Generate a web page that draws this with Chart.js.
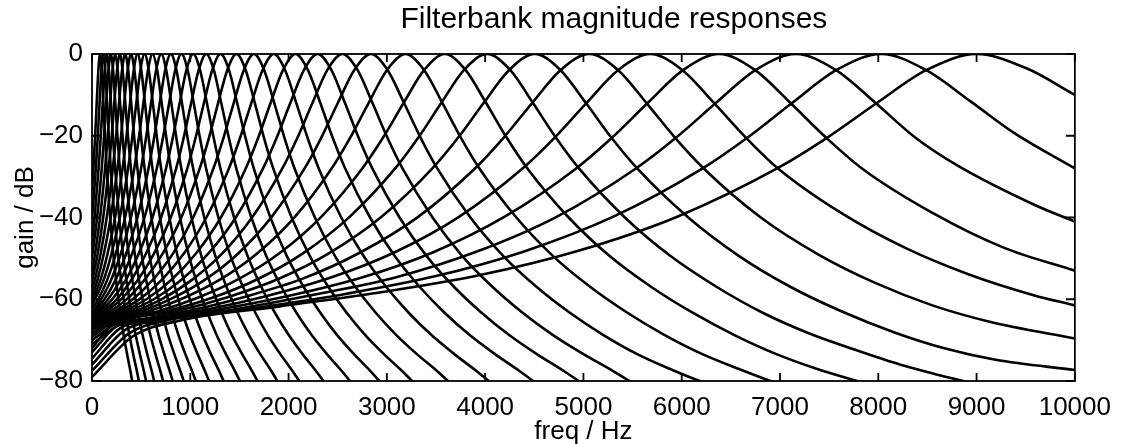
<!DOCTYPE html>
<html>
<head>
<meta charset="utf-8">
<title>Filterbank magnitude responses</title>
<script src="https://cdn.jsdelivr.net/npm/chart.js@4.4.1/dist/chart.umd.min.js"></script>
<style>
  html, body { margin: 0; padding: 0; background: #fff; }
</style>
</head>
<body>
<canvas id="fbChart" width="1122" height="444"></canvas>
<script>
// axis ticks
const freqTicks = [0, 1000, 2000, 3000, 4000, 5000, 6000, 7000, 8000, 9000, 10000];
const gainTicks = [0, -20, -40, -60, -80];
const plotTitle = 'Filterbank magnitude responses';

// magnitude response of each channel, [freq Hz, gain dB], highest channel first
const ch01 = [[0,-79],[420,-69],[880,-65.3],[1895,-61.8],[2910,-58.4],[3925,-54.2],[4940,-48.2],[5955,-39.8],[6970,-28],[7478,-20.5],[7985,-12],[8492,-3.9],[9000,0],[9508,-3.5],[10000,-10]];
const ch02 = [[0,-77.5],[380,-68.3],[762,-65.2],[1671,-62.1],[2579,-58.7],[3488,-54.4],[4396,-48.3],[5305,-39.8],[6213,-28],[6667,-20.5],[7122,-12],[7576,-3.9],[8030,0],[8484,-3.9],[8939,-11.6],[9393,-19.5],[10000,-28]];
const ch03 = [[0,-76],[330,-67.6],[658,-65.2],[1470,-62.4],[2283,-58.8],[3096,-54.6],[3909,-48.4],[4722,-39.9],[5534,-28],[5941,-20.5],[6347,-12],[6754,-3.9],[7160,0],[7566,-3.9],[7973,-12],[8379,-20.5],[8786,-27],[9598,-37],[10000,-41]];
const ch04 = [[0,-74.5],[280,-67.2],[564,-65.2],[1291,-62.5],[2018,-59.1],[2745,-54.7],[3472,-48.5],[4199,-39.8],[4926,-28],[5290,-20.5],[5653,-12],[6017,-3.9],[6380,0],[6744,-3.9],[7107,-12],[7471,-20.5],[7834,-28],[8561,-39],[9288,-47.5],[10000,-53]];
const ch05 = [[0,-73],[240,-66.8],[480,-65.2],[1130,-62.7],[1780,-59.2],[2430,-54.7],[3080,-48.5],[3730,-39.9],[4380,-28],[4705,-20.5],[5030,-12],[5355,-3.9],[5680,0],[6005,-3.9],[6330,-12],[6655,-20.5],[6980,-28],[7630,-39],[8280,-47.5],[8930,-54],[9580,-59],[10000,-61.5]];
const ch06 = [[0,-72],[200,-66.4],[406,-65.3],[987,-62.8],[1569,-59.3],[2151,-54.9],[2733,-48.5],[3315,-39.9],[3896,-28],[4187,-20.5],[4478,-12],[4769,-3.9],[5060,0],[5351,-3.9],[5642,-12],[5933,-20.5],[6224,-28],[6805,-40],[7387,-49],[7969,-56],[8551,-61.5],[9133,-65.5],[10000,-69.6]];
const ch07 = [[0,-71],[339,-65.3],[859,-62.9],[1380,-59.5],[1901,-55],[2422,-48.6],[2943,-39.9],[3463,-28],[3724,-20.5],[3984,-12],[4245,-3.9],[4505,0],[4765,-3.9],[5026,-12],[5286,-20.5],[5547,-28],[6067,-40],[6588,-49.5],[7109,-57],[7630,-63],[8151,-68],[8672,-72],[9192,-74.8],[10000,-77.3]];
const ch08 = [[0,-70],[281,-65.4],[748,-63],[1216,-59.7],[1683,-55.1],[2150,-48.7],[2618,-39.9],[3085,-28],[3319,-20.5],[3553,-12],[3786,-3.9],[4020,0],[4254,-3.9],[4487,-12],[4721,-20.5],[4955,-28],[5422,-40],[5890,-49.5],[6357,-57],[6824,-63.3],[7292,-68.3],[7759,-72.3],[8227,-76],[8864,-80],[9300,-82.5]];
const ch09 = [[0,-69.2],[229,-65.4],[649,-63.1],[1069,-59.7],[1490,-55.1],[1910,-48.7],[2330,-39.9],[2750,-28],[2960,-20.5],[3170,-12],[3380,-3.9],[3590,0],[3800,-3.9],[4010,-12],[4220,-20.5],[4430,-28],[4850,-40],[5270,-49.5],[5691,-57],[6111,-63.3],[6531,-68.7],[6951,-73.3],[7371,-77],[7854,-80.5],[8200,-83]];
const ch10 = [[0,-68.4],[181,-65.5],[557,-63.1],[933,-59.7],[1310,-55.1],[1686,-48.7],[2062,-39.9],[2438,-28],[2626,-20.5],[2814,-12],[3002,-3.9],[3190,0],[3378,-3.9],[3566,-12],[3754,-20.5],[3942,-28],[4318,-40],[4694,-49.5],[5071,-57],[5447,-63.3],[5823,-68.7],[6199,-73.3],[6575,-77],[6961,-80.5],[7300,-83]];
const ch11 = [[0,-67.6],[139,-65.6],[476,-63.2],[814,-59.8],[1151,-55.2],[1488,-48.8],[1826,-39.9],[2163,-28],[2332,-20.5],[2501,-12],[2669,-3.9],[2838,0],[3007,-3.9],[3175,-12],[3344,-20.5],[3513,-28],[3850,-40],[4188,-49.5],[4525,-57],[4862,-63.3],[5200,-68.7],[5537,-73.3],[5875,-77],[6237,-80.5],[6550,-83]];
const ch12 = [[0,-67],[104,-65.6],[410,-63.2],[715,-59.9],[1021,-55.2],[1326,-48.8],[1632,-39.9],[1937,-28],[2090,-20.5],[2243,-12],[2395,-3.9],[2548,0],[2701,-3.9],[2854,-12],[3006,-20.5],[3159,-28],[3465,-40],[3770,-49.5],[4076,-57],[4381,-63.3],[4687,-68.7],[4992,-73.3],[5298,-77.5],[5603,-82]];
const ch13 = [[0,-66.5],[74,-65.7],[351,-63.2],[629,-60],[907,-55.3],[1185,-48.8],[1463,-40],[1740,-28],[1879,-20.5],[2018,-12],[2157,-3.9],[2296,0],[2435,-3.9],[2574,-12],[2713,-20.5],[2852,-28],[3129,-40],[3407,-49.5],[3685,-57],[3963,-63.3],[4241,-68.7],[4518,-73.3],[4796,-77.5],[5074,-82]];
const ch14 = [[0,-66.2],[300,-63.2],[553,-60],[806,-55.3],[1058,-48.8],[1311,-40],[1564,-28],[1691,-20.5],[1817,-12],[1944,-3.9],[2070,0],[2196,-3.9],[2323,-12],[2449,-20.5],[2576,-28],[2829,-40],[3082,-49.5],[3335,-57],[3587,-63.3],[3840,-68.7],[4093,-73.3],[4346,-77.5],[4599,-82]];
const ch15 = [[0,-66],[249,-63.2],[478,-60.1],[707,-55.3],[935,-48.8],[1164,-40],[1393,-28],[1507,-20.5],[1621,-12],[1736,-3.9],[1850,0],[1964,-3.9],[2079,-12],[2193,-20.5],[2307,-28],[2536,-40],[2765,-49.5],[2994,-57],[3222,-63.3],[3451,-68.7],[3680,-73.3],[3908,-77.5],[4137,-82]];
const ch16 = [[0,-65.7],[203,-63.3],[409,-60.1],[616,-55.3],[822,-48.9],[1029,-40],[1235,-28],[1338,-20.5],[1442,-12],[1545,-3.9],[1648,0],[1751,-3.9],[1855,-12],[1958,-20.5],[2061,-28],[2268,-40],[2474,-49.5],[2681,-57],[2887,-63.3],[3094,-68.7],[3300,-73.3],[3507,-77.5],[3713,-82]];
const ch17 = [[0,-65.5],[162,-63.3],[349,-60.1],[536,-55.2],[722,-48.7],[909,-40],[1096,-28],[1190,-20.5],[1283,-12],[1377,-3.9],[1470,0],[1563,-3.9],[1657,-12],[1750,-20.5],[1844,-28],[2031,-40],[2218,-49.5],[2405,-57],[2591,-63.3],[2778,-68.7],[2965,-73.3],[3152,-77.5],[3339,-82]];
const ch18 = [[0,-65.3],[124,-63.3],[293,-60.1],[463,-55.4],[632,-48.8],[801,-40],[970,-28],[1054,-20.5],[1139,-12],[1224,-3.9],[1308,0],[1393,-3.9],[1477,-12],[1562,-20.5],[1646,-28],[1815,-40],[1984,-49.5],[2154,-57],[2323,-63.3],[2492,-68.7],[2661,-73.3],[2830,-77.5],[2999,-82]];
const ch19 = [[0,-65.1],[91,-63.3],[244,-60.2],[397,-55.4],[550,-48.8],[703,-40],[856,-28],[933,-20.5],[1009,-12],[1086,-3.9],[1162,0],[1239,-3.9],[1315,-12],[1392,-20.5],[1468,-28],[1621,-40],[1774,-49.5],[1927,-57],[2080,-63.3],[2233,-68.7],[2386,-73.3],[2539,-77.5],[2692,-82]];
const ch20 = [[0,-64.7],[61,-63.3],[199,-60.2],[338,-55.5],[476,-48.8],[615,-40],[753,-28],[822,-20.5],[892,-12],[961,-3.9],[1030,0],[1099,-3.9],[1169,-12],[1238,-20.5],[1307,-28],[1446,-40],[1584,-49.5],[1723,-57],[1861,-63.3],[2000,-68.7],[2139,-73.3],[2277,-77.5],[2415,-82]];
const ch21 = [[0,-64.2],[158,-60.2],[284,-55.5],[409,-48.8],[534,-40],[659,-28],[722,-20.5],[785,-12],[847,-3.9],[910,0],[973,-3.9],[1035,-12],[1098,-20.5],[1161,-28],[1286,-40],[1411,-49.5],[1537,-57],[1662,-63.3],[1787,-68.7],[1913,-73.3],[2038,-77.5],[2163,-82]];
const ch22 = [[0,-63.6],[122,-60.2],[235,-55.5],[348,-48.8],[462,-40],[575,-28],[632,-20.5],[689,-12],[745,-3.9],[802,0],[859,-3.9],[915,-12],[972,-20.5],[1029,-28],[1142,-40],[1256,-49.5],[1369,-57],[1482,-63.3],[1596,-68.7],[1709,-73.3],[1823,-77.5],[1936,-82]];
const ch23 = [[0,-63.3],[88,-60.2],[191,-55.5],[294,-48.8],[396,-40],[499,-28],[550,-20.5],[601,-12],[653,-3.9],[704,0],[755,-3.9],[807,-12],[858,-20.5],[909,-28],[1012,-40],[1114,-49.5],[1217,-57],[1320,-63.3],[1422,-68.7],[1525,-73.3],[1627,-77.5],[1730,-82]];
const ch24 = [[0,-62.3],[58,-60.2],[151,-55.5],[244,-48.8],[337,-40],[430,-28],[477,-20.5],[523,-12],[570,-3.9],[616,0],[663,-3.9],[709,-12],[756,-20.5],[802,-28],[895,-40],[988,-49.5],[1081,-57],[1174,-63.3],[1267,-68.7],[1360,-73.3],[1453,-77.5],[1546,-82]];
const ch25 = [[0,-61.4],[115,-55.5],[199,-48.8],[283,-40],[367,-28],[409,-20.5],[451,-12],[493,-3.9],[535,0],[577,-3.9],[619,-12],[661,-20.5],[703,-28],[787,-40],[871,-49.5],[956,-57],[1040,-63.3],[1124,-68.7],[1208,-73.3],[1292,-77.5],[1376,-82]];
const ch26 = [[0,-60.5],[83,-55.5],[159,-48.8],[235,-40],[311,-28],[349,-20.5],[387,-12],[425,-3.9],[463,0],[501,-3.9],[539,-12],[577,-20.5],[615,-28],[691,-40],[767,-49.5],[844,-57],[920,-63.3],[996,-68.7],[1072,-73.3],[1148,-77.5],[1224,-82]];
const ch27 = [[0,-59.3],[53,-55.5],[121,-48.8],[190,-40],[259,-28],[294,-20.5],[328,-12],[363,-3.9],[397,0],[431,-3.9],[466,-12],[500,-20.5],[535,-28],[604,-40],[673,-49.5],[742,-57],[810,-63.3],[879,-68.7],[948,-73.3],[1017,-77.5],[1086,-82]];
const ch28 = [[0,-57.8],[26,-55.5],[88,-48.8],[150,-40],[212,-28],[244,-20.5],[275,-12],[306,-3.9],[337,0],[368,-3.9],[399,-12],[430,-20.5],[462,-28],[524,-40],[586,-49.5],[649,-57],[711,-63.3],[773,-68.7],[836,-73.3],[898,-77.5],[960,-82]];
const ch29 = [[0,-55.7],[58,-48.8],[114,-40],[170,-28],[199,-20.5],[227,-12],[255,-3.9],[283,0],[311,-3.9],[339,-12],[367,-20.5],[396,-28],[452,-40],[508,-49.5],[565,-57],[621,-63.3],[677,-68.7],[734,-73.3],[790,-77.5],[846,-82]];
const ch30 = [[0,-53.7],[31,-48.8],[82,-40],[133,-28],[158,-20.5],[184,-12],[209,-3.9],[235,0],[261,-3.9],[286,-12],[312,-20.5],[337,-28],[388,-40],[439,-49.5],[491,-57],[542,-63.3],[593,-68.7],[644,-73.3],[695,-77.5],[746,-82]];
const ch31 = [[0,-49.8],[52,-40],[99,-28],[122,-20.5],[145,-12],[168,-3.9],[191,0],[214,-3.9],[237,-12],[260,-20.5],[283,-28],[330,-40],[376,-49.5],[422,-57],[468,-63.3],[514,-68.7],[561,-73.3],[607,-77.5],[653,-82]];
const ch32 = [[0,-45.9],[26,-40],[67,-28],[88,-20.5],[109,-12],[130,-3.9],[151,0],[172,-3.9],[193,-12],[214,-20.5],[235,-28],[276,-40],[318,-49.5],[360,-57],[402,-63.3],[444,-68.7],[486,-73.3],[527,-77.5],[569,-82]];
const ch33 = [[0,-40.3],[39,-28],[58,-20.5],[77,-12],[96,-3.9],[115,0],[134,-3.9],[153,-12],[172,-20.5],[191,-28],[229,-40],[267,-49.5],[305,-57],[342,-63.3],[380,-68.7],[418,-73.3],[456,-77.5],[494,-82]];
const ch34 = [[0,-33.2],[14,-28],[31,-20.5],[48,-12],[65,-3.9],[82,0],[99,-3.9],[116,-12],[133,-20.5],[150,-28],[185,-40],[219,-49.5],[253,-57],[287,-63.3],[321,-68.7],[356,-73.3],[390,-77.5],[424,-82]];

const channels = [ch01, ch02, ch03, ch04, ch05, ch06, ch07, ch08, ch09, ch10, ch11,
  ch12, ch13, ch14, ch15, ch16, ch17, ch18, ch19, ch20, ch21, ch22,
  ch23, ch24, ch25, ch26, ch27, ch28, ch29, ch30, ch31, ch32, ch33, ch34];

const fontFamily = '"Liberation Sans", Arial, Helvetica, sans-serif';
Chart.defaults.font.family = fontFamily;
Chart.defaults.color = '#000';

// matlab style box with ticks pointing inwards, title sits above the box
const boxTicks = {
  id: 'boxTicks',
  afterDatasetsDraw(chart) {
    const { ctx, chartArea: a, scales: { x, y } } = chart;
    ctx.save();
    ctx.strokeStyle = '#000';
    ctx.lineWidth = 1.8;
    ctx.strokeRect(a.left, a.top, a.right - a.left, a.bottom - a.top);
    ctx.beginPath();
    freqTicks.forEach(v => {
      const px = x.getPixelForValue(v);
      ctx.moveTo(px, a.top); ctx.lineTo(px, a.top + 8);
      ctx.moveTo(px, a.bottom); ctx.lineTo(px, a.bottom - 8);
    });
    gainTicks.forEach(v => {
      const py = y.getPixelForValue(v);
      ctx.moveTo(a.left, py); ctx.lineTo(a.left + 9, py);
      ctx.moveTo(a.right, py); ctx.lineTo(a.right - 9, py);
    });
    ctx.stroke();

    ctx.fillStyle = '#000';
    ctx.font = '30px ' + fontFamily;
    ctx.textAlign = 'center';
    ctx.textBaseline = 'middle';
    ctx.fillText(plotTitle, x.getPixelForValue(5310), 20);
    ctx.restore();
  }
};

const minusSign = v => (v < 0 ? '\u2212' + Math.abs(v) : String(v));

new Chart(document.getElementById('fbChart'), {
  type: 'line',
  data: {
    datasets: channels.map(pts => ({
      data: pts.map(([f, g]) => ({ x: f, y: g })),
      borderColor: '#000',
      borderWidth: 2.6,
      pointRadius: 0,
      fill: false,
      cubicInterpolationMode: 'monotone'
    }))
  },
  options: {
    responsive: false,
    animation: false,
    devicePixelRatio: 1,
    layout: { padding: { left: 0, right: 40, top: 54, bottom: 0 } },
    plugins: {
      legend: { display: false },
      tooltip: { enabled: false },
      title: { display: false }
    },
    scales: {
      x: {
        type: 'linear',
        min: 0,
        max: 10000,
        afterBuildTicks: s => { s.ticks = freqTicks.map(v => ({ value: v })); },
        afterFit: s => { s.height = 63; },
        grid: { display: false, drawTicks: false },
        border: { display: false },
        ticks: { font: { size: 26 }, padding: 11, maxRotation: 0, autoSkip: false, callback: minusSign },
        title: { display: true, text: 'freq / Hz', font: { size: 26 }, padding: { top: 0, bottom: -3.6 } }
      },
      y: {
        type: 'linear',
        min: -80,
        max: 0,
        afterBuildTicks: s => { s.ticks = gainTicks.map(v => ({ value: v })); },
        afterFit: s => { s.width = 92; },
        grid: { display: false, drawTicks: false },
        border: { display: false },
        ticks: { font: { size: 26 }, padding: 9, autoSkip: false, callback: minusSign },
        title: { display: true, text: 'gain / dB', font: { size: 26 }, padding: { top: 10.4, bottom: 0 } }
      }
    }
  },
  plugins: [boxTicks]
});
</script>
</body>
</html>
